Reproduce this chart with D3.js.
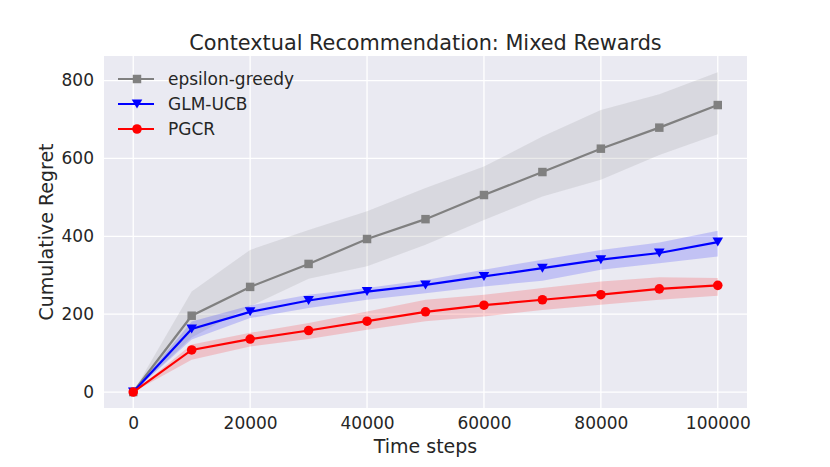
<!DOCTYPE html>
<html>
<head>
<meta charset="utf-8">
<script src="https://cdn.jsdelivr.net/npm/d3@7"></script>
<style>
  html, body { margin: 0; padding: 0; background: #fff; }
  svg text { font-family: "DejaVu Sans", sans-serif; fill: #262626; }
</style>
</head>
<body>
<div id="chart"></div>
<script>
// time steps on the x axis
const steps = [0, 10000, 20000, 30000, 40000, 50000, 60000, 70000, 80000, 90000, 100000];

// epsilon-greedy
const greedyMean  = [0, 196, 270, 329, 393, 444, 506, 565, 625, 679, 737];
const greedyUpper = [0, 258, 365, 416, 464, 524, 579, 656, 724, 765, 821];
const greedyLower = [0, 140, 220, 291, 323, 378, 442, 502, 545, 609, 662];

// GLM-UCB
const glmMean  = [0, 162, 206, 235, 258, 275, 297, 318, 340, 357, 385];
const glmUpper = [0, 181, 222, 250, 267, 288, 314, 340, 365, 384, 414];
const glmLower = [0, 135, 190, 216, 237, 254, 271, 286, 314, 331, 348];

// PGCR
const pgcrMean  = [0, 108, 136, 158, 182, 206, 223, 237, 250, 265, 274];
const pgcrUpper = [0, 122, 152, 177, 207, 237, 250, 267, 284, 295, 293];
const pgcrLower = [0, 83, 117, 136, 160, 182, 194, 211, 224, 237, 247];

const xTicks = [0, 20000, 40000, 60000, 80000, 100000];
const yTicks = [0, 200, 400, 600, 800];

const W = 830, H = 467;
const margin = { top: 56, right: 83, bottom: 59, left: 104 };
const width = W - margin.left - margin.right;
const height = H - margin.top - margin.bottom;

const svg = d3.select('#chart').append('svg')
    .attr('width', W)
    .attr('height', H);

const g = svg.append('g')
    .attr('transform', `translate(${margin.left},${margin.top})`);

const x = d3.scaleLinear().domain([-5000, 105000]).range([0, width]);
const y = d3.scaleLinear().domain([-41, 863]).range([height, 0]);

// background + grid
g.append('rect')
    .attr('width', width)
    .attr('height', height)
    .attr('fill', '#eaeaf2');

g.append('g')
    .attr('class', 'grid')
    .selectAll('line.vx')
    .data(xTicks)
    .enter()
    .append('line')
    .attr('x1', d => x(d)).attr('x2', d => x(d))
    .attr('y1', 0).attr('y2', height)
    .attr('stroke', '#fff').attr('stroke-width', 1.3);

g.append('g')
    .attr('class', 'grid')
    .selectAll('line.hy')
    .data(yTicks)
    .enter()
    .append('line')
    .attr('x1', 0).attr('x2', width)
    .attr('y1', d => y(d)).attr('y2', d => y(d))
    .attr('stroke', '#fff').attr('stroke-width', 1.3);

// axes (labels only, no ticks or domain line)
const xAxis = g.append('g')
    .attr('transform', `translate(0,${height})`)
    .call(d3.axisBottom(x).tickValues(xTicks).tickSize(0).tickPadding(9).tickFormat(d3.format('d')));
xAxis.select('.domain').remove();
xAxis.selectAll('text').style('font-size', '17px').attr('fill', '#262626');

const yAxis = g.append('g')
    .call(d3.axisLeft(y).tickValues(yTicks).tickSize(0).tickPadding(10).tickFormat(d3.format('d')));
yAxis.select('.domain').remove();
yAxis.selectAll('text').style('font-size', '17px').attr('fill', '#262626');

const series = [
    { name: 'epsilon-greedy', color: '#808080', marker: 'square', mean: greedyMean, lo: greedyLower, hi: greedyUpper },
    { name: 'GLM-UCB', color: '#0000ff', marker: 'triangle', mean: glmMean, lo: glmLower, hi: glmUpper },
    { name: 'PGCR', color: '#ff0000', marker: 'circle', mean: pgcrMean, lo: pgcrLower, hi: pgcrUpper }
];

const markerPath = function(type) {
    if (type === 'square') return d3.symbol().type(d3.symbolSquare).size(72)();
    if (type === 'circle') return d3.symbol().type(d3.symbolCircle).size(72)();
    // downward triangle
    return 'M-5.3,-4.5L5.3,-4.5L0,4.5Z';
};

const area = d3.area()
    .x((d, i) => x(steps[i]))
    .y0(d => y(d[0]))
    .y1(d => y(d[1]));

const line = d3.line()
    .x((d, i) => x(steps[i]))
    .y(d => y(d));

series.forEach(s => {
    const band = s.lo.map((v, i) => [v, s.hi[i]]);
    g.append('path')
        .datum(band)
        .attr('d', area)
        .attr('fill', s.color)
        .attr('fill-opacity', 0.17);

    g.append('path')
        .datum(s.mean)
        .attr('d', line)
        .attr('fill', 'none')
        .attr('stroke', s.color)
        .attr('stroke-width', 2.2);

    g.selectAll(null)
        .data(s.mean)
        .enter()
        .append('path')
        .attr('d', markerPath(s.marker))
        .attr('transform', (d, i) => `translate(${x(steps[i])},${y(d)})`)
        .attr('fill', s.color);
});

// legend
const legend = svg.append('g')
    .attr('transform', 'translate(118,79)');

const item = legend.selectAll('.legend-item')
    .data(series)
    .enter()
    .append('g')
    .attr('class', 'legend-item')
    .attr('transform', (d, i) => `translate(0,${i * 25})`);

item.append('line')
    .attr('x1', 0).attr('x2', 36)
    .attr('stroke', d => d.color)
    .attr('stroke-width', 2.2);

item.append('path')
    .attr('d', d => markerPath(d.marker))
    .attr('transform', 'translate(19,0)')
    .attr('fill', d => d.color);

item.append('text')
    .attr('x', 50)
    .attr('y', 6)
    .style('font-size', '17px')
    .text(d => d.name);

// title and axis labels
svg.append('text')
    .attr('x', margin.left + width / 2)
    .attr('y', 50)
    .attr('text-anchor', 'middle')
    .style('font-size', '20.8px')
    .text('Contextual Recommendation: Mixed Rewards');

svg.append('text')
    .attr('x', margin.left + width / 2)
    .attr('y', 453)
    .attr('text-anchor', 'middle')
    .style('font-size', '19px')
    .text('Time steps');

svg.append('text')
    .attr('transform', `translate(53,${margin.top + height / 2}) rotate(-90)`)
    .attr('text-anchor', 'middle')
    .style('font-size', '19px')
    .text('Cumulative Regret');
</script>
</body>
</html>
